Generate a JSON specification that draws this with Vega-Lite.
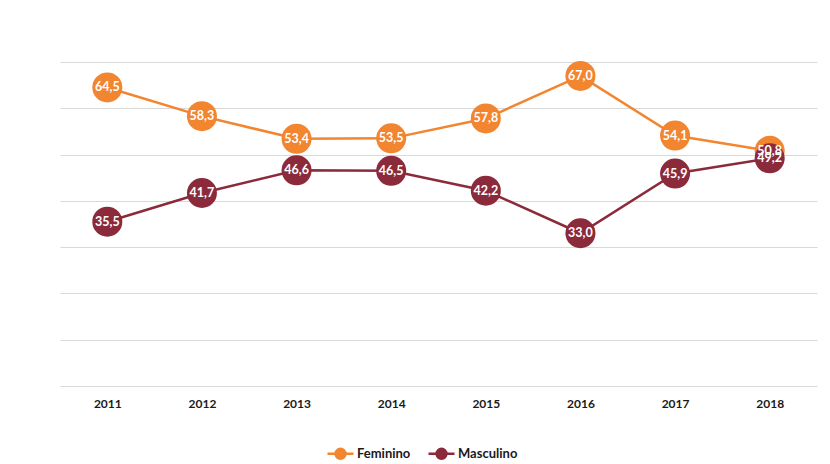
{
  "$schema": "https://vega.github.io/schema/vega-lite/v6.json",
  "width": 757,
  "height": 324,
  "autosize": {"type": "none"},
  "padding": {"left": 60, "top": 62, "right": 13, "bottom": 78},
  "background": "white",
  "config": {
    "view": {"stroke": null},
    "font": "Lato",
    "locale": {"number": {"decimal": ",", "thousands": ".", "grouping": [3], "currency": ["", " €"]}}
  },
  "data": {
    "values": [
      {"ano": "2011", "sexo": "Feminino", "valor": 64.5},
      {"ano": "2012", "sexo": "Feminino", "valor": 58.3},
      {"ano": "2013", "sexo": "Feminino", "valor": 53.4},
      {"ano": "2014", "sexo": "Feminino", "valor": 53.5},
      {"ano": "2015", "sexo": "Feminino", "valor": 57.8},
      {"ano": "2016", "sexo": "Feminino", "valor": 67.0},
      {"ano": "2017", "sexo": "Feminino", "valor": 54.1},
      {"ano": "2018", "sexo": "Feminino", "valor": 50.8},
      {"ano": "2011", "sexo": "Masculino", "valor": 35.5},
      {"ano": "2012", "sexo": "Masculino", "valor": 41.7},
      {"ano": "2013", "sexo": "Masculino", "valor": 46.6},
      {"ano": "2014", "sexo": "Masculino", "valor": 46.5},
      {"ano": "2015", "sexo": "Masculino", "valor": 42.2},
      {"ano": "2016", "sexo": "Masculino", "valor": 33.0},
      {"ano": "2017", "sexo": "Masculino", "valor": 45.9},
      {"ano": "2018", "sexo": "Masculino", "valor": 49.2}
    ]
  },
  "encoding": {
    "x": {
      "field": "ano", "type": "ordinal", "title": null,
      "scale": {"type": "point", "padding": 0.5},
      "axis": {"labelAngle": 0, "labelFont": "Lato", "labelFontWeight": "bold", "labelFontSize": 12, "labelColor": "#1a1a1a", "ticks": false, "domain": false, "labelPadding": 12}
    },
    "y": {
      "field": "valor", "type": "quantitative", "title": null,
      "scale": {"domain": [0, 70], "nice": false},
      "axis": {"values": [0, 10, 20, 30, 40, 50, 60, 70], "labels": false, "ticks": false, "domain": false, "gridColor": "#d9d9d9", "gridWidth": 1}
    },
    "color": {
      "field": "sexo", "type": "nominal",
      "scale": {"domain": ["Feminino", "Masculino"], "range": ["#F28530", "#8B2A3B"]},
      "legend": {
        "title": null, "orient": "none", "direction": "horizontal",
        "legendX": 266, "legendY": 377,
        "labelFont": "Lato", "labelFontWeight": "bold", "labelFontSize": 13, "labelColor": "#1a1a1a",
        "symbolType": "M -1 0 L 1 0 M 0.38 0 A 0.38 0.38 0 1 1 -0.38 0 A 0.38 0.38 0 1 1 0.38 0 Z",
        "symbolSize": 676, "symbolStrokeWidth": 2.5, "symbolOpacity": 1,
        "columnPadding": 12, "labelOffset": 2,
        "encode": {"symbols": {"update": {"fill": {"scale": "color", "field": "value"}, "stroke": {"scale": "color", "field": "value"}}}}
      }
    }
  },
  "layer": [
    {"mark": {"type": "line", "strokeWidth": 2.5}},
    {"mark": {"type": "point", "filled": true, "size": 900, "opacity": 1, "shape": "circle"}},
    {
      "mark": {"type": "text", "color": "white", "font": "Lato", "fontWeight": "bold", "fontSize": 12.5, "baseline": "middle", "align": "center"},
      "encoding": {"text": {"field": "valor", "type": "quantitative", "format": ".1f"}, "color": {"value": "white"}}
    }
  ]
}
